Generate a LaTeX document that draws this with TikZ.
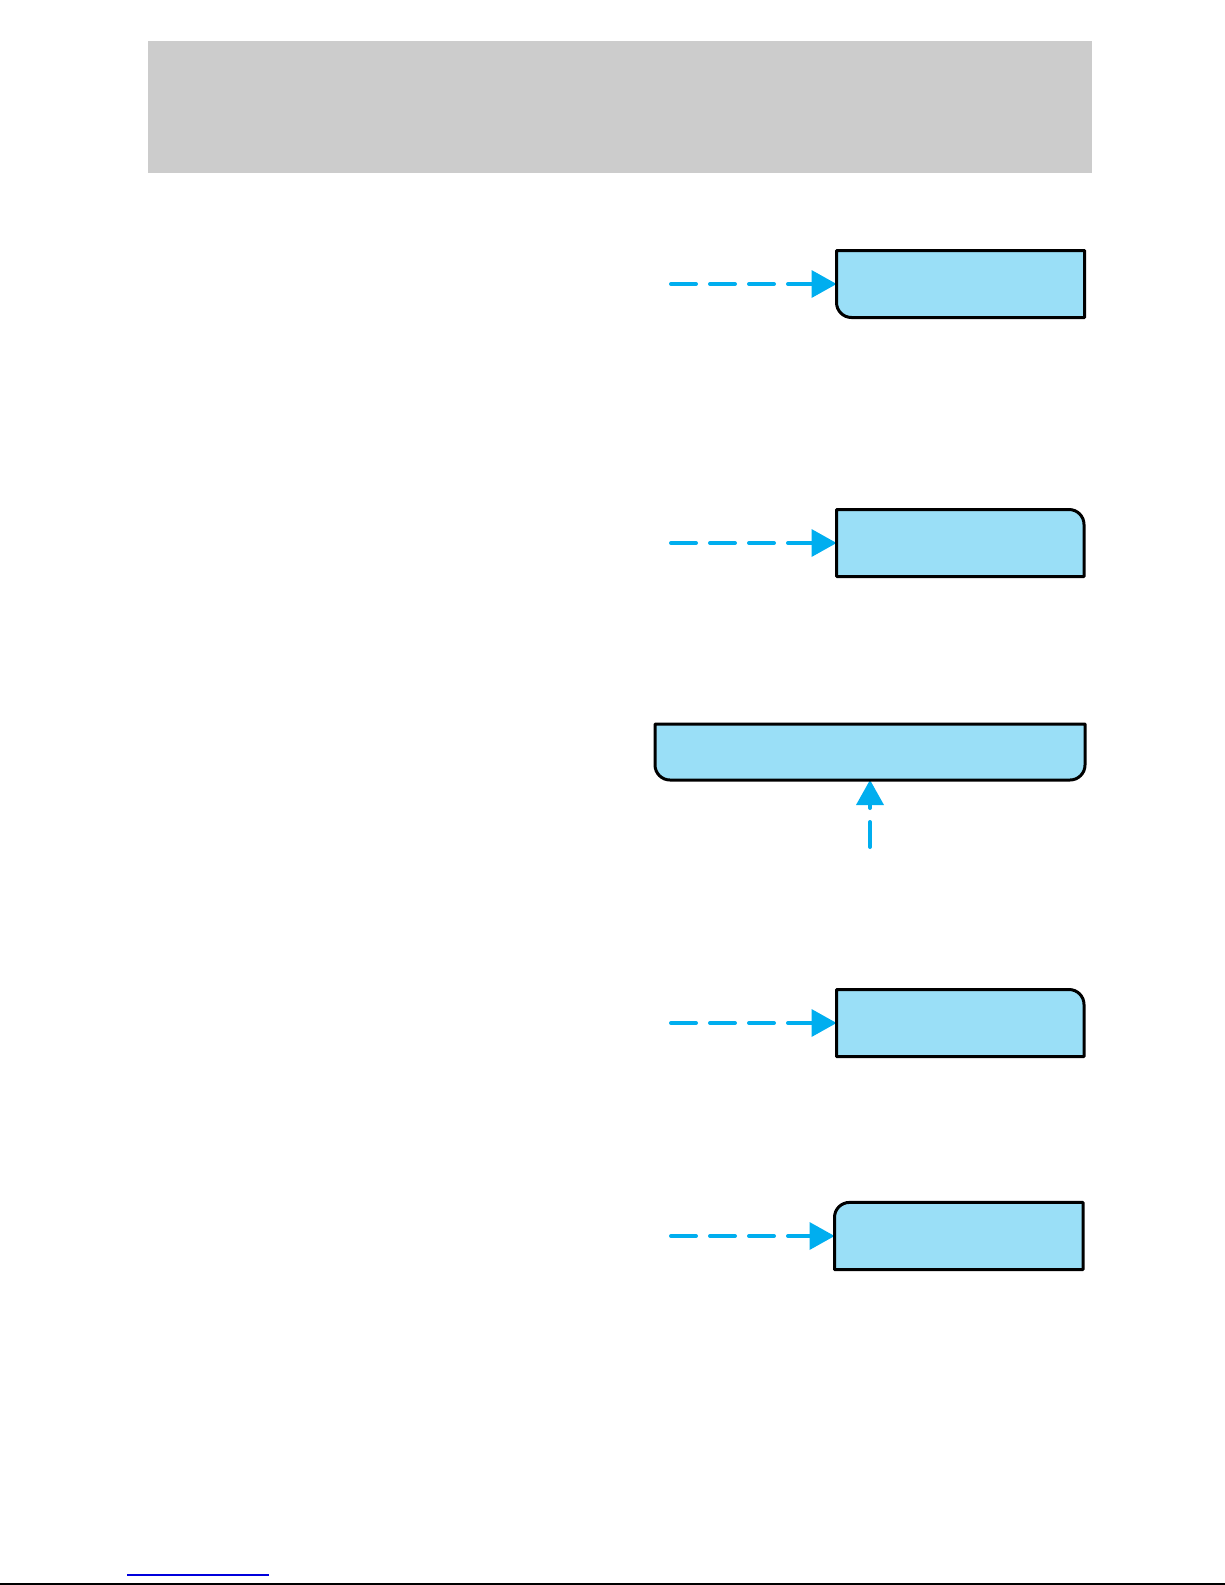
\documentclass[tikz,border=0pt]{standalone}
\usepackage{xcolor}
\usepackage{tikz}
\definecolor{bandgray}{RGB}{204,204,204}
\definecolor{panelblue}{RGB}{154,223,247}
\definecolor{cueblue}{RGB}{0,174,239}
\definecolor{linkblue}{RGB}{0,0,220}
\begin{document}
\begin{tikzpicture}[x=0.5pt,y=0.5pt]
\tikzstyle{every node}+=[inner sep=0pt,outer sep=0pt]
\tikzstyle{panel}=[rectangle]
\tikzstyle{outline}=[draw=black,fill=panelblue,line width=1.5pt,line join=round]
\tikzstyle{cue}=[draw=cueblue,line width=2pt,line cap=round,dash pattern=on 12.5pt off 7pt,shorten >=11pt]
\useasboundingbox (0,0) rectangle (1225,-1585);
\fill [bandgray] (148,-41) rectangle (1092,-173);
\node (d1) [panel,minimum width=124pt,minimum height=33.5pt] at (960.5,-284) {};
\node (d2) [panel,minimum width=123.75pt,minimum height=33.5pt] at (960.25,-543) {};
\node (d3) [panel,minimum width=215pt,minimum height=28pt] at (870,-752) {};
\node (d4) [panel,minimum width=123.75pt,minimum height=33.5pt] at (960.25,-1023) {};
\node (d5) [panel,minimum width=124.25pt,minimum height=33.6pt] at (958.75,-1236) {};
\coordinate (s1) at (671,-284);
\coordinate (s2) at (671,-543);
\coordinate (s3) at (870,-847);
\coordinate (s4) at (671,-1023);
\coordinate (s5) at (671,-1236);
\draw [cue] (s1) -- (d1.west);
\fill [cueblue] (d1.west) -- ++(-12.5pt,7pt) -- ++(0,-14pt) -- cycle;
\draw [cue] (s2) -- (d2.west);
\fill [cueblue] (d2.west) -- ++(-12.5pt,7pt) -- ++(0,-14pt) -- cycle;
\draw [cue] (s3) -- (d3.south);
\fill [cueblue] (d3.south) -- ++(-7pt,-12.5pt) -- ++(14pt,0) -- cycle;
\draw [cue] (s4) -- (d4.west);
\fill [cueblue] (d4.west) -- ++(-12.5pt,7pt) -- ++(0,-14pt) -- cycle;
\draw [cue] (s5) -- (d5.west);
\fill [cueblue] (d5.west) -- ++(-12.5pt,7pt) -- ++(0,-14pt) -- cycle;
\draw [outline] (d1.north west) -- (d1.north east) -- (d1.south east) -- ([xshift=7.5pt]d1.south west) arc (270:180:7.5pt) -- cycle;
\draw [outline] (d2.north west) -- ([xshift=-7.5pt]d2.north east) arc (90:0:7.5pt) -- (d2.south east) -- (d2.south west) -- cycle;
\draw [outline] (d3.north west) -- (d3.north east) -- ([yshift=7.5pt]d3.south east) arc (0:-90:7.5pt) -- ([xshift=7.5pt]d3.south west) arc (270:180:7.5pt) -- cycle;
\draw [outline] (d4.north west) -- ([xshift=-7.5pt]d4.north east) arc (90:0:7.5pt) -- (d4.south east) -- (d4.south west) -- cycle;
\draw [outline] ([yshift=-7.5pt]d5.north west) arc (180:90:7.5pt) -- (d5.north east) -- (d5.south east) -- (d5.south west) -- cycle;
\draw [linkblue,line width=0.6pt] (127,-1575) -- (269,-1575);
\draw [black,line width=0.8pt] (0,-1584) -- (1225,-1584);
\end{tikzpicture}
\end{document}
